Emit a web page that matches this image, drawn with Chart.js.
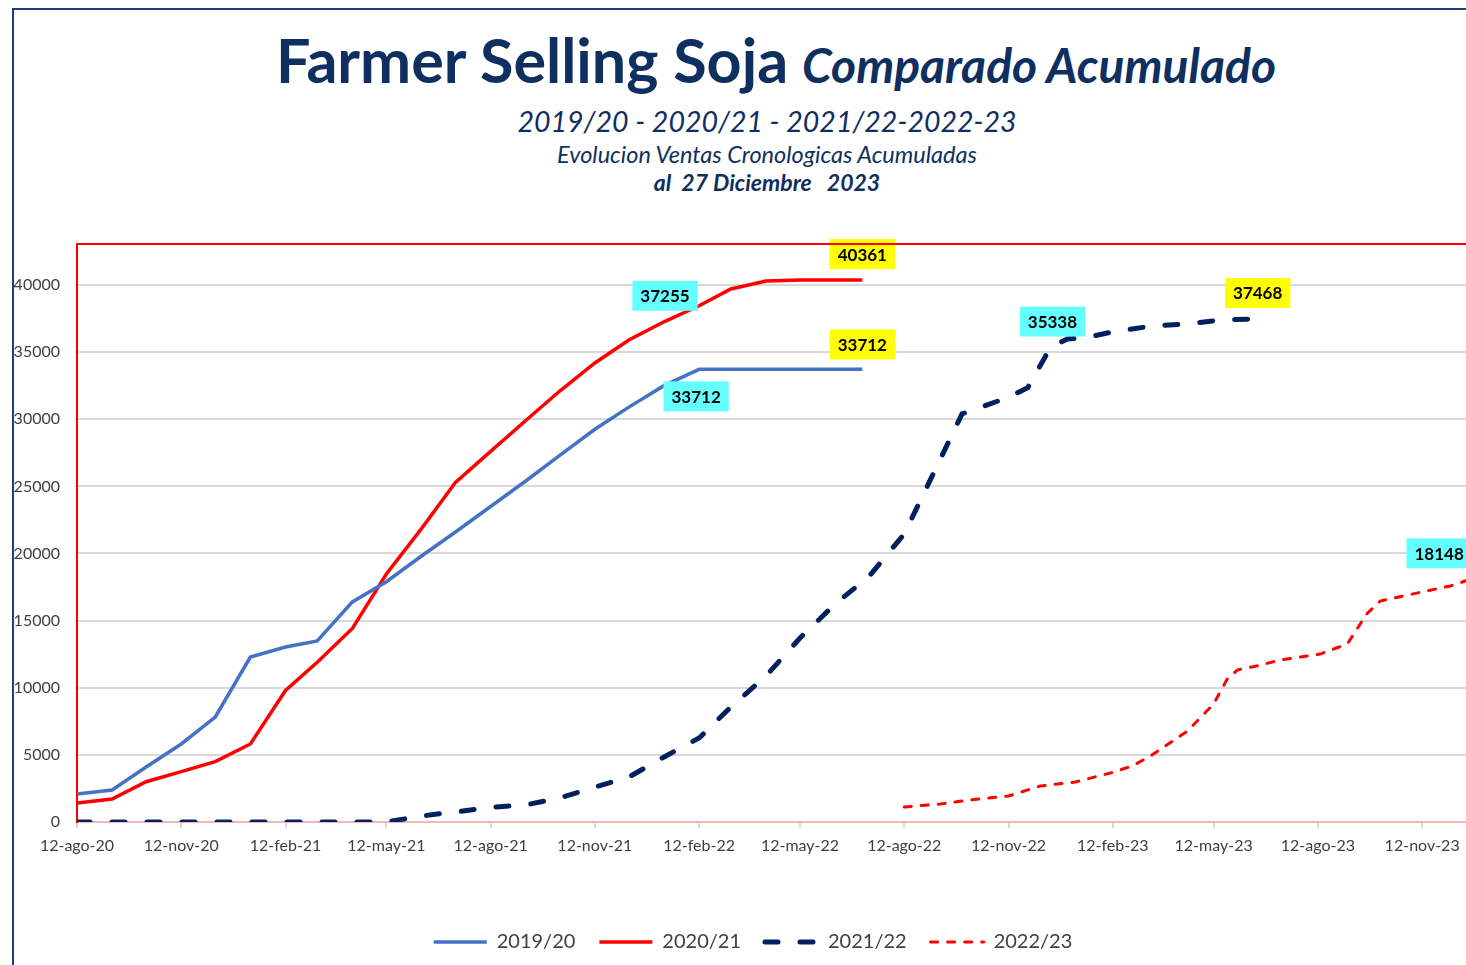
<!DOCTYPE html>
<html>
<head>
<meta charset="utf-8">
<script src="https://cdn.jsdelivr.net/npm/chart.js@4.4.1/dist/chart.umd.min.js"></script>
<style>
  html, body { margin: 0; padding: 0; overflow: hidden; background: #fff; }
  body { width: 1466px; height: 965px; position: relative; font-family: Lato, sans-serif; }
  #marco { position: absolute; left: 12px; top: 8px; width: 1510px; height: 1000px; border: 2px solid #1f3b82; box-sizing: border-box; }
  .linea { position: absolute; left: 12px; width: 1510px; text-align: center; line-height: 1; color: #0f2f60; white-space: pre; }
  #t1 { top: 29px; left: 21px; font-size: 61px; font-weight: bold; }
  #t1 span { font-size: 48px; font-style: italic; margin-left: 14px; }
  #t2 { top: 107px; font-size: 28.5px; font-style: italic; }
  #t3 { top: 143px; font-size: 23.5px; font-style: italic; }
  #t4 { top: 171px; font-size: 23px; font-style: italic; font-weight: bold; }
  #grafico { position: absolute; left: 0; top: 200px; }
</style>
</head>
<body>
<div id="marco"></div>
<div class="linea" id="t1">Farmer Selling Soja<span>Comparado Acumulado</span></div>
<div class="linea" id="t2">2019/20 - 2020/21 - 2021/22-2022-23</div>
<div class="linea" id="t3">Evolucion Ventas Cronologicas Acumuladas</div>
<div class="linea" id="t4">al  27 Diciembre   2023</div>
<canvas id="grafico" width="1530" height="765"></canvas>
<script>
const meses = ['ene','feb','mar','abr','may','jun','jul','ago','sep','oct','nov','dic'];

const etiquetasX = ['12-ago-20','12-nov-20','12-feb-21','12-may-21','12-ago-21','12-nov-21','12-feb-22',
  '12-may-22','12-ago-22','12-nov-22','12-feb-23','12-may-23','12-ago-23','12-nov-23'];
const ticksY = [0, 5000, 10000, 15000, 20000, 25000, 30000, 35000, 40000];

// 2019/20 y 2020/21 comparten fechas
const fechasCampana = ['12-ago-20','12-sep-20','12-oct-20','12-nov-20','12-dic-20','12-ene-21','12-feb-21',
  '12-mar-21','12-abr-21','12-may-21','12-jun-21','12-jul-21','12-ago-21','12-sep-21','12-oct-21',
  '12-nov-21','12-dic-21','12-ene-22','12-feb-22','12-mar-22','12-abr-22','12-may-22','12-jun-22','6-jul-22'];
const ventas1920 = [2090, 2380, 4100, 5810, 7820, 12290, 13030, 13480, 16390, 17900, 19810, 21600,
  23500, 25400, 27300, 29250, 30900, 32500, 33712, 33712, 33712, 33712, 33712, 33712];
const ventas2021 = [1415, 1713, 3000, 3750, 4500, 5810, 9800, 11900, 14420, 18470, 21850, 25300,
  27600, 29900, 32100, 34190, 35900, 37255, 38450, 39700, 40300, 40361, 40361, 40361];

const fechas2122 = ['12-ago-20','12-may-21','12-jun-21','12-jul-21','12-ago-21','12-sep-21','12-oct-21',
  '12-nov-21','12-dic-21','12-ene-22','12-feb-22','12-mar-22','12-abr-22','12-may-22','12-jun-22',
  '12-jul-22','12-ago-22','2-oct-22','11-nov-22','29-nov-22','19-dic-22','3-ene-23','17-ene-23',
  '16-feb-23','20-mar-23','19-abr-23','18-may-23','19-jun-23'];
const ventas2122 = [0, 0, 450, 750, 1100, 1270, 1790, 2600, 3350, 4840, 6260, 8570, 10880, 13700,
  16240, 18300, 21450, 30400, 31600, 32350, 35338, 35980, 36050, 36570, 36950, 37100, 37390, 37468];

const fechas2223 = ['12-ago-22','13-sep-22','9-oct-22','12-nov-22','10-dic-22','10-ene-23','10-feb-23',
  '1-mar-23','17-mar-23','19-abr-23','12-may-23','24-may-23','2-jun-23','19-jun-23','10-jul-23',
  '14-ago-23','7-sep-23','24-sep-23','6-oct-23','26-oct-23','7-dic-23','27-dic-23'];
const ventas2223 = [1120, 1340, 1640, 1940, 2680, 2980, 3650, 4170, 4900, 6780, 8790, 10650, 11320,
  11620, 12070, 12510, 13260, 15490, 16460, 16830, 17580, 18148];

// etiquetas de valor: serie, punto, fondo, desplazamiento
const etiquetas = [
  {serie: 1, punto: 23, fondo: '#ffff00', dx: 0, dy: -26},
  {serie: 0, punto: 23, fondo: '#ffff00', dx: 0, dy: -25},
  {serie: 1, punto: 17, fondo: '#66ffff', dx: 1, dy: -26},
  {serie: 0, punto: 18, fondo: '#66ffff', dx: -3, dy: 27},
  {serie: 2, punto: 20, fondo: '#66ffff', dx: 2, dy: -26},
  {serie: 2, punto: 27, fondo: '#ffff00', dx: 1, dy: -26},
  {serie: 3, punto: 21, fondo: '#66ffff', dx: -34, dy: -25}
];

const inicio = Date.UTC(2020, 7, 12);
function dia(f) {
  const p = f.split('-');
  return Math.round((Date.UTC(2000 + Number(p[2]), meses.indexOf(p[1]), Number(p[0])) - inicio) / 86400000);
}
function puntos(fechas, valores) {
  return fechas.map((f, i) => ({x: dia(f), y: valores[i]}));
}
const textoTick = {};
etiquetasX.forEach(e => { textoTick[dia(e)] = e; });

const fuente = 'Lato, sans-serif';

const pluginMarco = {
  id: 'marcoRojo',
  afterDraw(chart) {
    const {ctx, chartArea} = chart;
    ctx.save();
    ctx.strokeStyle = '#ff0000';
    ctx.lineWidth = 2;
    ctx.beginPath();
    ctx.moveTo(chartArea.left - 1, chartArea.top);
    ctx.lineTo(chartArea.right, chartArea.top);
    ctx.stroke();
    ctx.restore();
  }
};

const pluginEtiquetas = {
  id: 'etiquetas',
  afterDatasetsDraw(chart) {
    const ctx = chart.ctx;
    ctx.save();
    ctx.font = 'bold 17px ' + fuente;
    ctx.textAlign = 'center';
    ctx.textBaseline = 'middle';
    etiquetas.forEach(e => {
      const el = chart.getDatasetMeta(e.serie).data[e.punto];
      const valor = chart.data.datasets[e.serie].data[e.punto].y;
      const texto = String(valor);
      const w = ctx.measureText(texto).width + 16;
      const h = 30;
      const cx = el.x + e.dx, cy = el.y + e.dy;
      ctx.fillStyle = e.fondo;
      ctx.fillRect(cx - w / 2, cy - h / 2, w, h);
      ctx.fillStyle = '#000';
      ctx.fillText(texto, cx, cy + 1);
    });
    ctx.restore();
  }
};

new Chart('grafico', {
  type: 'line',
  data: {
    datasets: [
      {label: '2019/20', data: puntos(fechasCampana, ventas1920), borderColor: '#4472c4', borderWidth: 3.5},
      {label: '2020/21', data: puntos(fechasCampana, ventas2021), borderColor: '#ff0000', borderWidth: 3.5},
      {label: '2021/22', data: puntos(fechas2122, ventas2122), borderColor: '#002060', borderWidth: 5,
        borderDash: [13, 22], borderCapStyle: 'round'},
      {label: '2022/23', data: puntos(fechas2223, ventas2223), borderColor: '#ff0000', borderWidth: 3,
        borderDash: [7, 10], borderCapStyle: 'round'}
    ]
  },
  options: {
    responsive: false,
    animation: false,
    devicePixelRatio: 1,
    layout: {padding: {top: 44, right: 24, bottom: 3, left: 0}},
    elements: {point: {radius: 0}, line: {tension: 0}},
    scales: {
      x: {
        type: 'linear',
        min: 0,
        max: 1261,
        afterBuildTicks: s => { s.ticks = etiquetasX.map(e => ({value: dia(e)})); },
        afterFit: s => { s.height = 86; },
        grid: {drawOnChartArea: false, drawTicks: true, tickLength: 6, color: '#d9d9d9', lineWidth: 2},
        border: {color: '#f4b6b6', width: 2},
        ticks: {
          autoSkip: false, maxRotation: 0, padding: 8, color: '#404040',
          font: {family: fuente, size: 16},
          callback: v => textoTick[v] || ''
        }
      },
      y: {
        min: 0,
        max: 43050,
        afterBuildTicks: s => { s.ticks = ticksY.map(v => ({value: v})); },
        afterFit: s => { s.width = 77; },
        grid: {color: '#d9d9d9', lineWidth: 2, drawTicks: false},
        border: {color: '#ff0000', width: 2},
        ticks: {padding: 17, color: '#404040', font: {family: fuente, size: 16}, callback: v => String(v)}
      }
    },
    plugins: {
      legend: {
        position: 'bottom',
        labels: {
          usePointStyle: true,
          pointStyle: 'line',
          pointStyleWidth: 53,
          padding: 24,
          color: '#404040',
          font: {family: fuente, size: 20},
          generateLabels: chart => chart.data.datasets.map((ds, i) => ({
            text: ds.label,
            datasetIndex: i,
            fillStyle: ds.borderColor,
            strokeStyle: ds.borderColor,
            lineWidth: ds.borderWidth,
            lineDash: ds.borderDash || [],
            lineCap: ds.borderCapStyle || 'butt',
            pointStyle: 'line',
            fontColor: '#404040',
            hidden: false
          }))
        }
      },
      title: {display: false},
      tooltip: {enabled: false}
    }
  },
  plugins: [pluginMarco, pluginEtiquetas]
});
</script>
</body>
</html>
